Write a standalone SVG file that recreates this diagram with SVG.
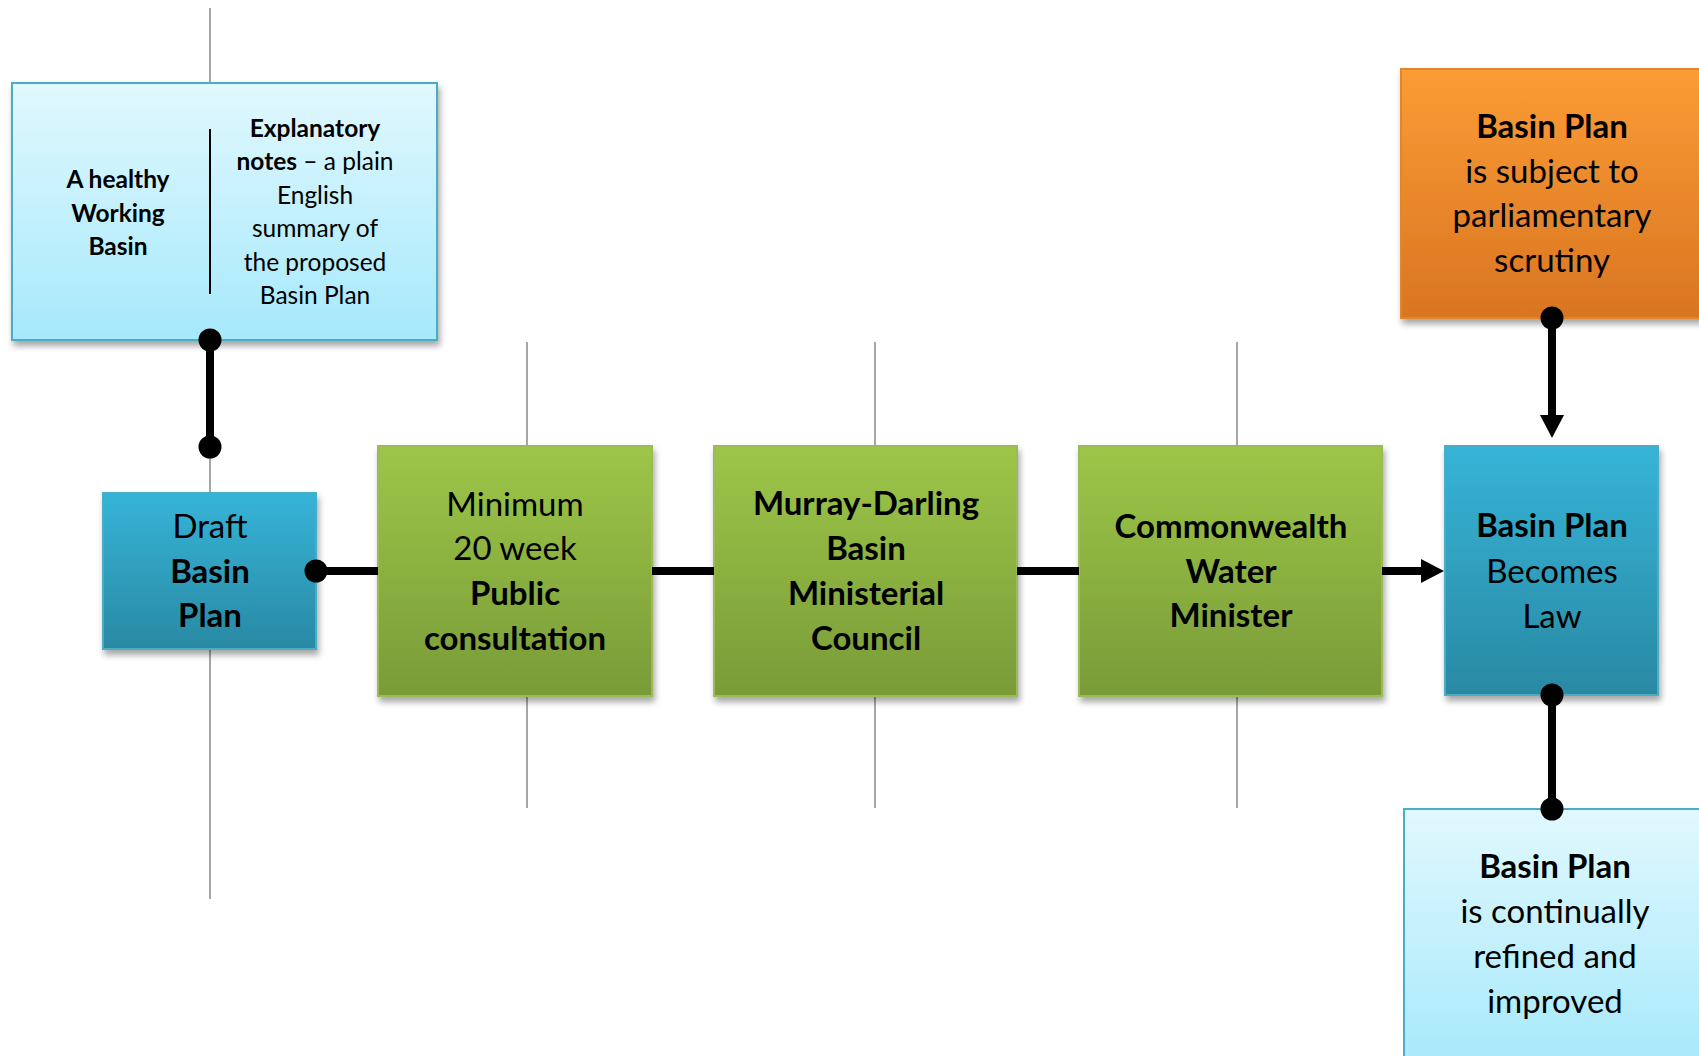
<svg xmlns="http://www.w3.org/2000/svg" width="1699" height="1056" viewBox="0 0 1699 1056">
<defs>
<linearGradient id="gGreen" x1="0" y1="0" x2="0" y2="1"><stop offset="0" stop-color="#9dc648"/><stop offset="1" stop-color="#799b38"/></linearGradient>
<linearGradient id="gBlue" x1="0" y1="0" x2="0" y2="1"><stop offset="0" stop-color="#36b4d8"/><stop offset="1" stop-color="#2989a3"/></linearGradient>
<linearGradient id="gOrange" x1="0" y1="0" x2="0" y2="1"><stop offset="0" stop-color="#fb9c35"/><stop offset="1" stop-color="#d97522"/></linearGradient>
<linearGradient id="gLight" x1="0" y1="0" x2="0" y2="1"><stop offset="0" stop-color="#e1f8fe"/><stop offset="1" stop-color="#a6e9fb"/></linearGradient>
<filter id="sh" x="-10%" y="-10%" width="130%" height="130%"><feDropShadow dx="2" dy="5" stdDeviation="3" flood-color="#000" flood-opacity="0.35"/></filter>
<marker id="arr" markerUnits="userSpaceOnUse" markerWidth="24" markerHeight="24" refX="1" refY="12" orient="auto"><path d="M0,0 L23,12 L0,24 Z" fill="#000"/></marker>
<style>
.grid{stroke:#a6a6a6;stroke-width:2;fill:none}
.con{stroke:#000;stroke-width:8;fill:none}
.dot{fill:#000}
.green{fill:url(#gGreen);stroke:#9bbb59;stroke-width:2}
.blue{fill:url(#gBlue);stroke:#4bacc6;stroke-width:2}
.orange{fill:url(#gOrange);stroke:#e2862c;stroke-width:2}
.light{fill:url(#gLight);stroke:#4bacc6;stroke-width:2}
text{font-family:Lato,"Open Sans","Liberation Sans",sans-serif;fill:#000;text-anchor:middle}
.big{font-size:33px}
.sm{font-size:24.5px}
.b{font-weight:bold}
</style>
</defs>
<rect width="1699" height="1056" fill="#fff"/>
<g id="gridlines">
<line class="grid" x1="210" y1="8" x2="210" y2="899"/>
<line class="grid" x1="527" y1="342" x2="527" y2="808"/>
<line class="grid" x1="875" y1="342" x2="875" y2="808"/>
<line class="grid" x1="1237" y1="342" x2="1237" y2="808"/>
</g>
<g id="notes">
<rect class="light" x="12" y="83" width="425" height="257" filter="url(#sh)"/>
<line x1="210" y1="129" x2="210" y2="294" stroke="#000" stroke-width="2"/>
<text class="sm b" x="118" y="188">A healthy</text>
<text class="sm b" x="118" y="222">Working</text>
<text class="sm b" x="118" y="255">Basin</text>
<text class="sm b" x="315" y="137">Explanatory</text>
<text class="sm" x="315" y="170"><tspan font-weight="bold">notes</tspan> – a plain</text>
<text class="sm" x="315" y="204">English</text>
<text class="sm" x="315" y="237">summary of</text>
<text class="sm" x="315" y="271">the proposed</text>
<text class="sm" x="315" y="304">Basin Plan</text>
</g>
<g id="draft">
<rect class="blue" x="103" y="493" width="213" height="156" filter="url(#sh)"/>
<text class="big" x="210" y="538">Draft</text>
<text class="big b" x="210" y="583">Basin</text>
<text class="big b" x="210" y="627">Plan</text>
</g>
<g id="consultation">
<rect class="green" x="378" y="446" width="274" height="250" filter="url(#sh)"/>
<text class="big" x="515" y="516">Minimum</text>
<text class="big" x="515" y="560">20 week</text>
<text class="big b" x="515" y="605">Public</text>
<text class="big b" x="515" y="650">consultation</text>
</g>
<g id="council">
<rect class="green" x="714" y="446" width="303" height="250" filter="url(#sh)"/>
<text class="big b" x="866" y="515">Murray-Darling</text>
<text class="big b" x="866" y="560">Basin</text>
<text class="big b" x="866" y="605">Ministerial</text>
<text class="big b" x="866" y="650">Council</text>
</g>
<g id="minister">
<rect class="green" x="1079" y="446" width="303" height="250" filter="url(#sh)"/>
<text class="big b" x="1231" y="538">Commonwealth</text>
<text class="big b" x="1231" y="583">Water</text>
<text class="big b" x="1231" y="627">Minister</text>
</g>
<g id="scrutiny">
<rect class="orange" x="1401" y="69" width="310" height="249" filter="url(#sh)"/>
<text class="big b" x="1552" y="138">Basin Plan</text>
<text class="big" x="1552" y="183">is subject to</text>
<text class="big" x="1552" y="227">parliamentary</text>
<text class="big" x="1552" y="272">scrutiny</text>
</g>
<g id="law">
<rect class="blue" x="1445" y="446" width="213" height="249" filter="url(#sh)"/>
<text class="big b" x="1552" y="537">Basin Plan</text>
<text class="big" x="1552" y="583">Becomes</text>
<text class="big" x="1552" y="628">Law</text>
</g>
<g id="refined">
<rect class="light" x="1404" y="809" width="310" height="260"/>
<text class="big b" x="1555" y="878">Basin Plan</text>
<text class="big" x="1555" y="923">is continually</text>
<text class="big" x="1555" y="968">refined and</text>
<text class="big" x="1555" y="1013">improved</text>
</g>
<g id="connectors">
<line class="con" x1="210" y1="340" x2="210" y2="447"/>
<circle class="dot" cx="210" cy="340" r="11.5"/>
<circle class="dot" cx="210" cy="447" r="11.5"/>
<line class="con" x1="316" y1="571" x2="378" y2="571"/>
<circle class="dot" cx="316" cy="571" r="11.5"/>
<line class="con" x1="652" y1="571" x2="714" y2="571"/>
<line class="con" x1="1017" y1="571" x2="1079" y2="571"/>
<line class="con" x1="1382" y1="571" x2="1422" y2="571" marker-end="url(#arr)"/>
<line class="con" x1="1552" y1="318" x2="1552" y2="416" marker-end="url(#arr)"/>
<circle class="dot" cx="1552" cy="318" r="11.5"/>
<line class="con" x1="1552" y1="695" x2="1552" y2="809"/>
<circle class="dot" cx="1552" cy="695" r="11.5"/>
<circle class="dot" cx="1552" cy="809" r="11.5"/>
</g>
</svg>
